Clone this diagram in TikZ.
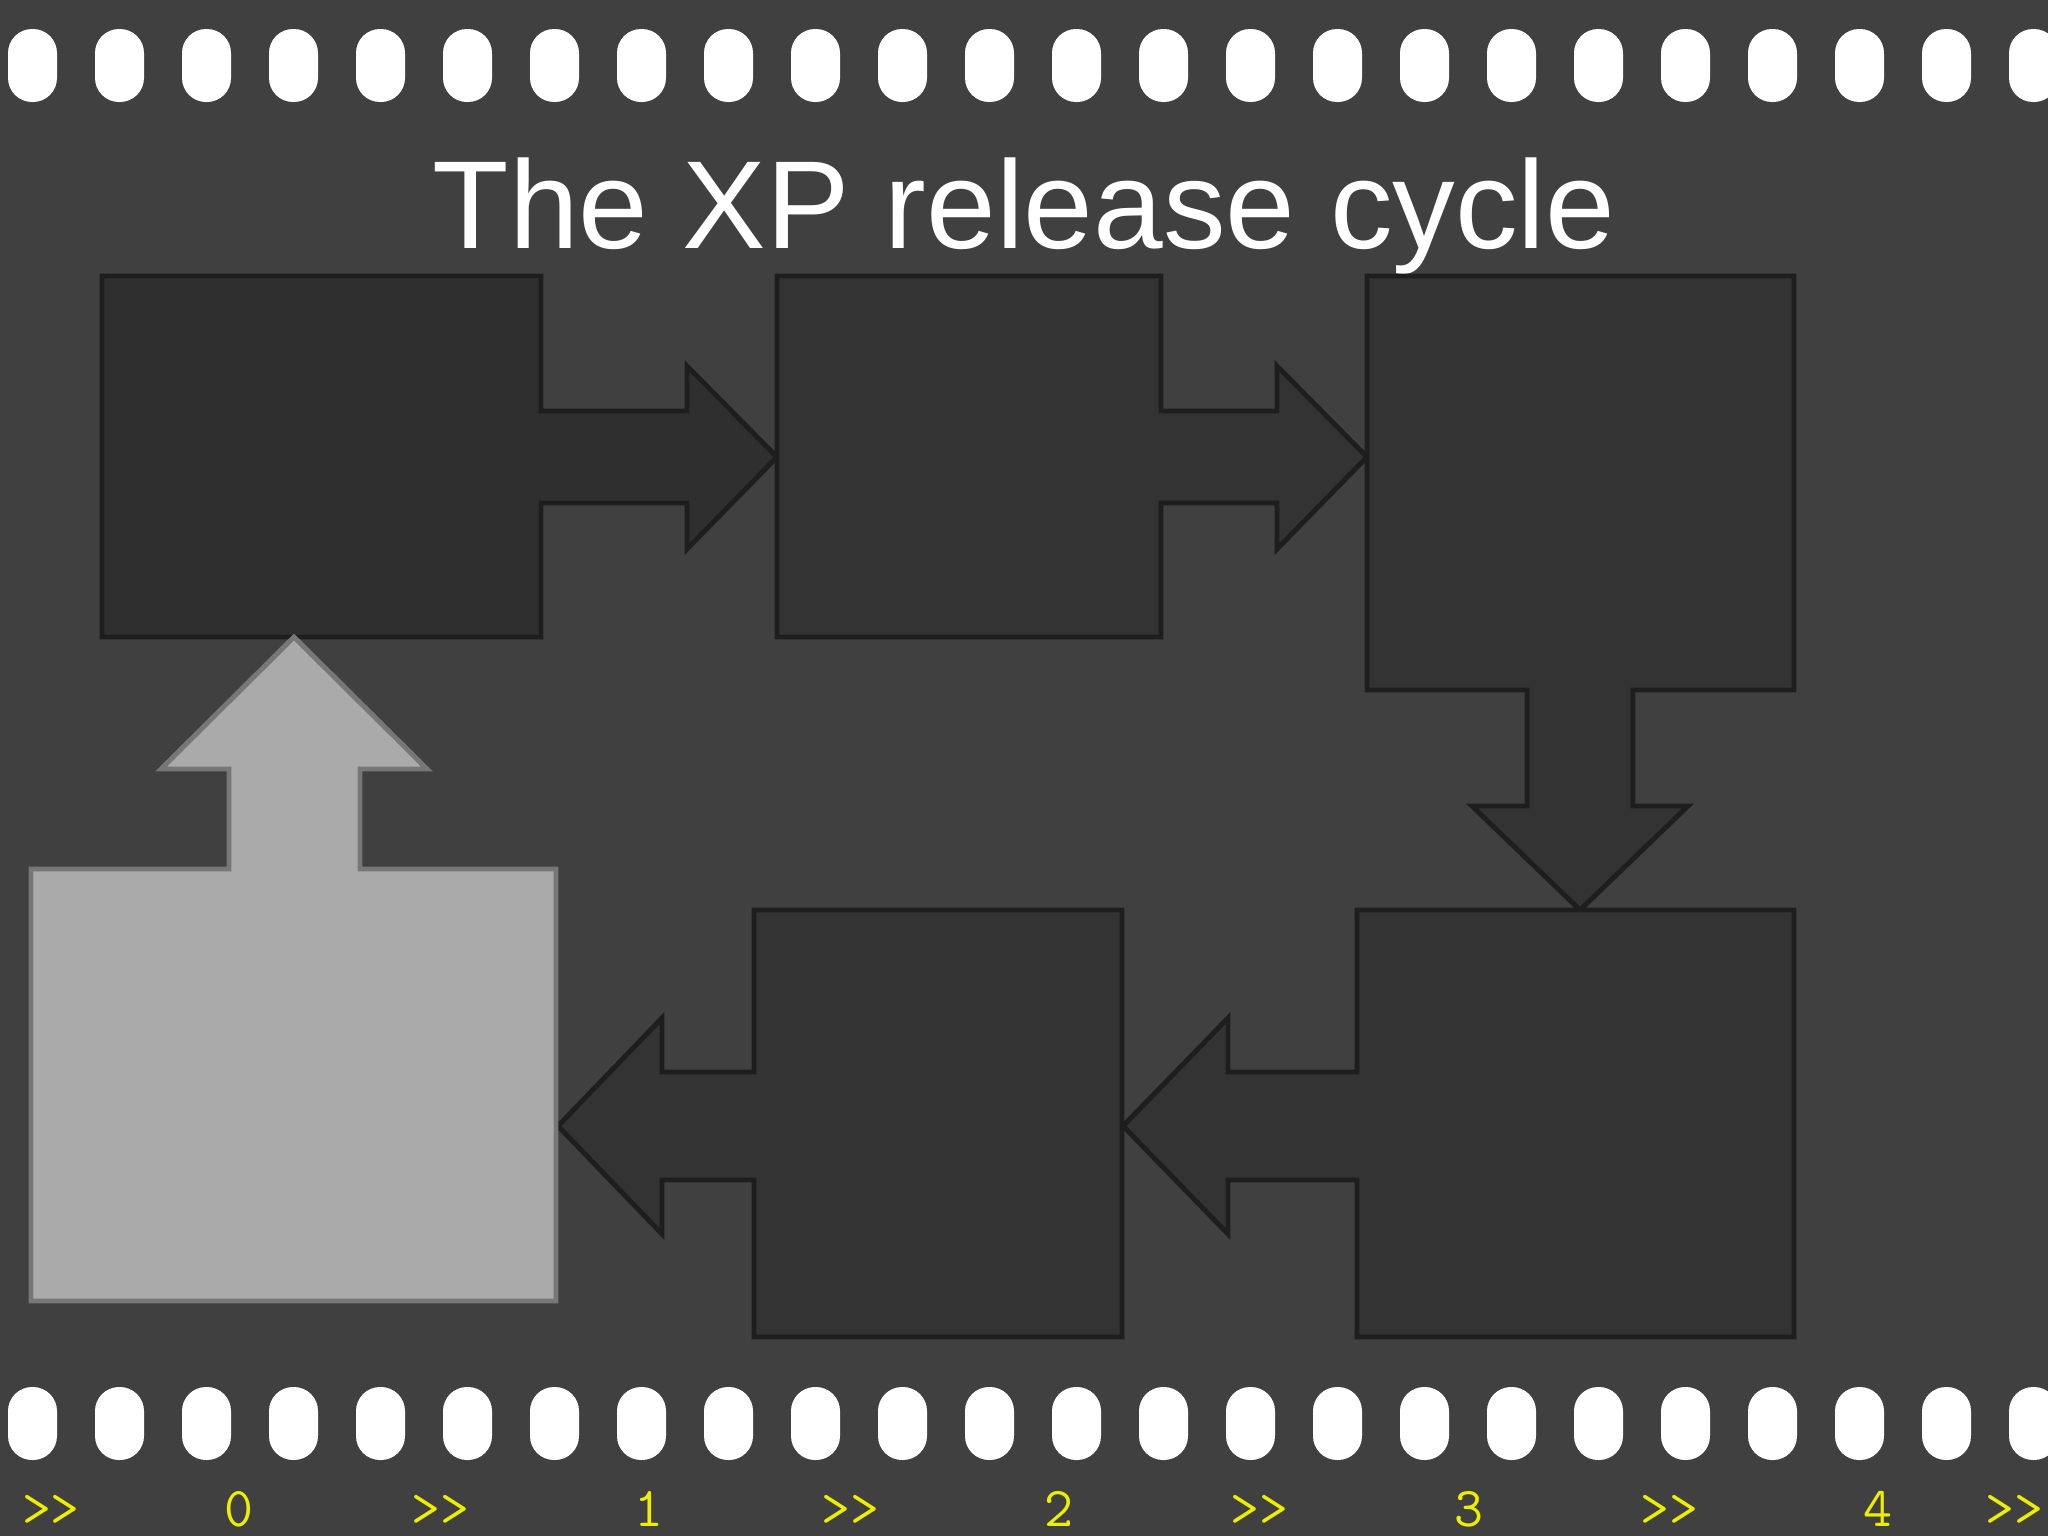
\documentclass[tikz,border=0pt]{standalone}
\usepackage{fontspec}
\setmainfont{Liberation Sans}
\definecolor{bgc}{HTML}{404040}
\definecolor{boxfill}{HTML}{333333}
\definecolor{boxfillA}{HTML}{2F2F2F}
\definecolor{boxline}{HTML}{1E1E1E}
\definecolor{lightfill}{HTML}{AAAAAA}
\definecolor{lightline}{HTML}{777777}
\definecolor{labyellow}{HTML}{EEEE00}
\tikzset{
  stagebox/.style={fill=boxfill, draw=boxline, line width=1.4pt, line join=miter},
  activebox/.style={fill=lightfill, draw=lightline, line width=1.4pt, line join=miter},
  filmhole/.style={fill=white, draw=none, rounded corners=0.24cm},
  ticklabel/.style={text=labyellow, font=\ttfamily\fontsize{16}{18}\selectfont, anchor=base, inner sep=0pt},
}
\begin{document}
\begin{tikzpicture}[x=0.01cm, y=-0.01cm]
\fill[bgc] (0,0) rectangle (2048,1536);
\useasboundingbox (0,0) rectangle (2048,1536);
% film holes
\foreach \i in {0,...,23} {
  \fill[filmhole] ({8+87*\i},29) rectangle ({57+87*\i},102);
  \fill[filmhole] ({8+87*\i},1387) rectangle ({57+87*\i},1460);
}
% title
\node[text=white, anchor=base, inner sep=0pt, font=\fontsize{35.6}{40}\selectfont] (title) at (1024,248) {The XP release cycle};
% box A with arrow to B
\draw[stagebox, fill=boxfillA] (102,276) -- (541,276) -- (541,411) -- (687,411) -- (687,366) -- (777,457) -- (687,549) -- (687,503) -- (541,503) -- (541,637) -- (102,637) -- cycle;
% box B with arrow to C
\draw[stagebox] (777,276) -- (1161,276) -- (1161,411) -- (1277,411) -- (1277,366) -- (1367,457) -- (1277,549) -- (1277,503) -- (1161,503) -- (1161,637) -- (777,637) -- cycle;
% box C with arrow down to D
\draw[stagebox] (1367,276) -- (1794,276) -- (1794,690) -- (1633,690) -- (1633,806) -- (1688,806) -- (1580,910) -- (1472,806) -- (1527,806) -- (1527,690) -- (1367,690) -- cycle;
% box D with arrow to E
\draw[stagebox] (1357,910) -- (1794,910) -- (1794,1337) -- (1357,1337) -- (1357,1180) -- (1228,1180) -- (1228,1234) -- (1123,1126) -- (1228,1018) -- (1228,1072) -- (1357,1072) -- cycle;
% box E with arrow to F
\draw[stagebox] (754,910) -- (1122,910) -- (1122,1337) -- (754,1337) -- (754,1180) -- (662,1180) -- (662,1234) -- (558,1126) -- (662,1018) -- (662,1072) -- (754,1072) -- cycle;
% box F with arrow up to A
\draw[activebox] (31,869) -- (229,869) -- (229,769) -- (161,769) -- (294,637) -- (427,769) -- (360,769) -- (360,869) -- (556,869) -- (556,1301) -- (31,1301) -- cycle;
% bottom labels
\node[ticklabel] (l0) at (51,1526) {>>};
\node[ticklabel] (n0) at (239,1526) {0};
\node[ticklabel] (l1) at (440,1526) {>>};
\node[ticklabel] (n1) at (649,1526) {1};
\node[ticklabel] (l2) at (850,1526) {>>};
\node[ticklabel] (n2) at (1059,1526) {2};
\node[ticklabel] (l3) at (1259,1526) {>>};
\node[ticklabel] (n3) at (1469,1526) {3};
\node[ticklabel] (l4) at (1669,1526) {>>};
\node[ticklabel] (n4) at (1878,1526) {4};
\node[ticklabel] (l5) at (2014,1526) {>>};
\end{tikzpicture}
\end{document}
